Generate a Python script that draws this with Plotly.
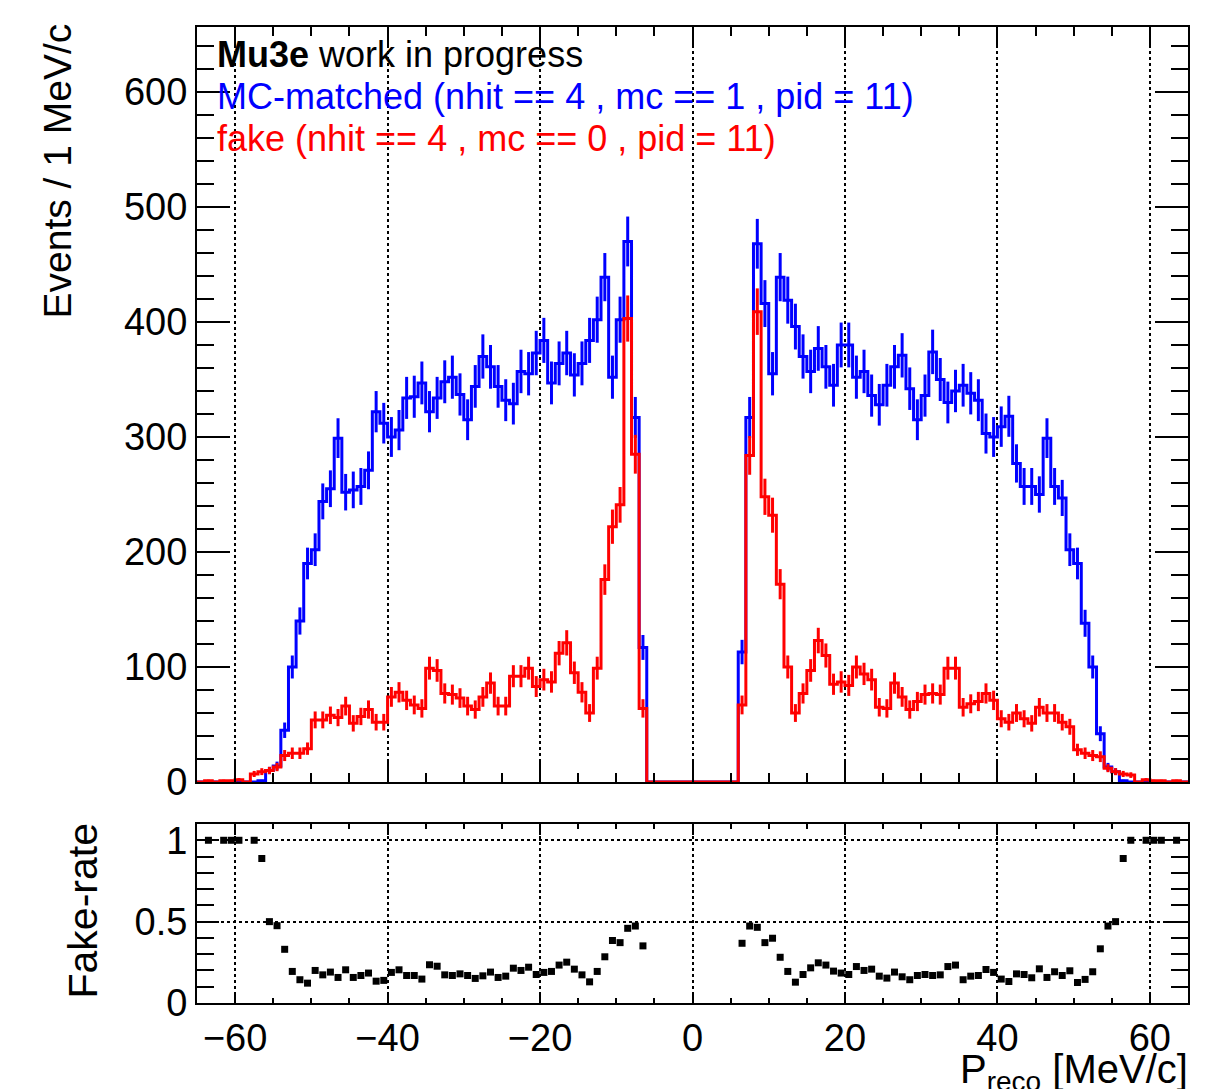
import numpy as np
import plotly.graph_objects as go

# 1 MeV/c bins, lower edges from -65 to 64
bin_low = list(range(-65, 65))

# MC-matched tracks (nhit == 4, mc == 1, pid = 11), events per bin
matched = [
    0, 0, 0, 0, 0, 0, 0, 0, 1, 10, 14, 45, 100, 140, 190, 202,
    244, 255, 299, 252, 254, 257, 271, 322, 312, 300, 306, 334, 335, 347, 322, 334,
    348, 352, 337, 315, 344, 370, 361, 344, 332, 329, 357, 355, 373, 384, 347, 364,
    373, 354, 364, 384, 402, 439, 352, 402, 470, 317, 117,
    0, 0, 0, 0, 0, 0, 0, 0, 0, 0, 0, 0,
    113, 317, 468, 416, 355, 439, 419, 396, 370, 357, 377, 361, 345, 380, 380, 352,
    357, 336, 328, 345, 361, 371, 342, 315, 336, 374, 350, 330, 340, 345, 338, 332,
    303, 300, 309, 318, 277, 257, 257, 250, 299, 257, 247, 202, 190, 138, 100, 42,
    13, 9, 1, 0, 0, 0, 0, 0, 0, 0, 0,
]

# fake tracks (nhit == 4, mc == 0, pid = 11), events per bin
fake = [
    0, 1, 0, 1, 1, 2, 0, 7, 9, 10, 13, 23, 25, 25, 29, 54,
    54, 58, 56, 66, 51, 57, 63, 52, 52, 74, 78, 71, 67, 64, 99, 97,
    77, 76, 73, 66, 63, 74, 86, 66, 66, 92, 92, 99, 83, 89, 87, 112,
    121, 95, 78, 60, 99, 176, 222, 241, 403, 285, 64,
    0, 0, 0, 0, 0, 0, 0, 0, 0, 0, 0, 0,
    67, 284, 409, 248, 232, 172, 100, 60, 77, 97, 123, 110, 85, 87, 84, 100,
    94, 89, 65, 64, 86, 74, 63, 70, 76, 77, 76, 99, 99, 65, 68, 70,
    77, 71, 55, 52, 60, 55, 51, 65, 60, 60, 52, 48, 28, 25, 23, 22,
    12, 9, 7, 6, 0, 2, 1, 1, 0, 1, 0,
]

# fake-rate per bin as read from the lower pad (None = no point drawn)
fake_rate = [
    None, 1.0, None, 1.0, 1.0, 1.0, None, 1.0, 0.888, 0.500, 0.475, 0.330, 0.194, 0.143, 0.122, 0.200,
    0.173, 0.190, 0.157, 0.204, 0.157, 0.169, 0.184, 0.134, 0.139, 0.188, 0.204, 0.169, 0.169, 0.147, 0.235, 0.226,
    0.173, 0.169, 0.179, 0.169, 0.151, 0.167, 0.190, 0.157, 0.165, 0.214, 0.200, 0.220, 0.175, 0.188, 0.194, 0.233,
    0.251, 0.208, 0.173, 0.130, 0.194, 0.284, 0.384, 0.371, 0.459, 0.473, 0.351,
    None, None, None, None, None, None, None, None, None, None, None, None,
    0.367, 0.473, 0.465, 0.371, 0.398, 0.281, 0.194, 0.128, 0.175, 0.216, 0.247, 0.233, 0.196, 0.184, 0.175, 0.224,
    0.200, 0.208, 0.165, 0.153, 0.190, 0.161, 0.143, 0.169, 0.175, 0.169, 0.173, 0.224, 0.233, 0.143, 0.165, 0.169,
    0.206, 0.188, 0.147, 0.132, 0.179, 0.175, 0.155, 0.210, 0.157, 0.192, 0.169, 0.198, 0.126, 0.145, 0.192, 0.333,
    0.473, 0.500, 0.888, 1.0, None, 1.0, 1.0, 1.0, None, 1.0, None,
]

x_ticks = [-60, -40, -20, 0, 20, 40, 60]
y_ticks_top = [0, 100, 200, 300, 400, 500, 600]
y_ticks_bot = [0, 0.5, 1]
y_ticklabels_bot = ["0", "0.5", "1"]

BLUE = "#0000ff"
RED = "#ff0000"
FONT = "Liberation Sans, Arial, Helvetica, sans-serif"

# the page body has an 8 px margin: the figure is placed inside it
OFF = 8
W, H = 1227 - 2 * OFF, 1089 - OFF

edges = np.array(bin_low + [bin_low[-1] + 1], dtype=float)
centers = np.array(bin_low, dtype=float) + 0.5


def px(v):
    return (v - OFF) / W


def py(v):
    return 1 - (v - OFF) / H


fig = go.Figure()


def add_hist(vals, color):
    vals = np.array(vals, dtype=float)
    fig.add_trace(go.Scatter(
        x=edges, y=np.append(vals, vals[-1]), mode="lines",
        line=dict(color=color, width=3, shape="hv"),
        xaxis="x", yaxis="y", hoverinfo="skip", showlegend=False))
    err = np.sqrt(vals)
    fig.add_trace(go.Scatter(
        x=centers, y=vals, mode="markers",
        marker=dict(size=1, color=color),
        error_y=dict(type="data", array=err, color=color, thickness=3, width=0),
        xaxis="x", yaxis="y", showlegend=False))


add_hist(matched, BLUE)
add_hist(fake, RED)

fig.add_trace(go.Scatter(
    x=centers, y=fake_rate, mode="markers",
    marker=dict(symbol="square", size=7, color="black"),
    xaxis="x2", yaxis="y2", showlegend=False))

x_dom = [px(197), px(1188)]
axis_common = dict(
    showline=True, linecolor="black", linewidth=2, mirror="allticks",
    ticks="inside", tickcolor="black", tickwidth=2, zeroline=False,
    automargin=False,
    tickfont=dict(family=FONT, size=38, color="black"),
)

fig.update_layout(
    width=W, height=H,
    margin=dict(l=0, r=0, t=0, b=0, pad=0),
    paper_bgcolor="white", plot_bgcolor="white",
    font=dict(family=FONT, color="black"),
    xaxis=dict(
        domain=x_dom, range=[-65, 65], anchor="y",
        tickvals=x_ticks, ticklen=20, showticklabels=False,
        minor=dict(dtick=5, tick0=0, ticklen=9, tickwidth=2, tickcolor="black", ticks="inside"),
        showgrid=True, gridcolor="black", griddash="dot", gridwidth=1.5,
        **axis_common),
    yaxis=dict(
        domain=[py(782), py(27)], range=[0, 656.5], anchor="x",
        tickvals=y_ticks_top, ticklen=33,
        minor=dict(dtick=20, tick0=0, ticklen=17, tickwidth=2, tickcolor="black", ticks="inside"),
        showgrid=False,
        **axis_common),
    xaxis2=dict(
        domain=x_dom, range=[-65, 65], anchor="y2", matches="x",
        tickvals=x_ticks, ticklen=11,
        minor=dict(dtick=5, tick0=0, ticklen=5, tickwidth=2, tickcolor="black", ticks="inside"),
        showgrid=True, gridcolor="black", griddash="dot", gridwidth=1.5,
        **axis_common),
    yaxis2=dict(
        domain=[py(1003), py(824)], range=[0, 1.1], anchor="x2",
        tickvals=y_ticks_bot, ticktext=y_ticklabels_bot, ticklen=22,
        minor=dict(dtick=0.1, tick0=0, ticklen=17, tickwidth=2, tickcolor="black", ticks="inside"),
        showgrid=True, gridcolor="black", griddash="dot", gridwidth=1.5,
        **axis_common),
)

ann = [
    dict(text="Events / 1 MeV/c", x=px(57), y=py(22), xanchor="center", yanchor="top",
         textangle=-90, font=dict(size=39)),
    dict(text="Fake-rate", x=px(82), y=py(822), xanchor="center", yanchor="top",
         textangle=-90, font=dict(size=41)),
    dict(text="P<sub>reco</sub> [MeV/c]", x=px(1190), y=py(1045), xanchor="right", yanchor="top",
         font=dict(size=40)),
    dict(text="<b>Mu3e</b> work in progress", x=px(215), y=py(55), xanchor="left", yanchor="middle",
         font=dict(size=36, color="black")),
    dict(text="MC-matched (nhit == 4 , mc == 1 , pid = 11)", x=px(215), y=py(97), xanchor="left",
         yanchor="middle", font=dict(size=36, color=BLUE)),
    dict(text="fake (nhit == 4 , mc == 0 , pid = 11)", x=px(215), y=py(138), xanchor="left",
         yanchor="middle", font=dict(size=36, color=RED)),
]
for a in ann:
    a.update(xref="paper", yref="paper", showarrow=False)
    a.setdefault("font", {})
    a["font"].setdefault("family", FONT)
    a["font"].setdefault("color", "black")
fig.update_layout(annotations=ann)

fig.write_html("out.html")
